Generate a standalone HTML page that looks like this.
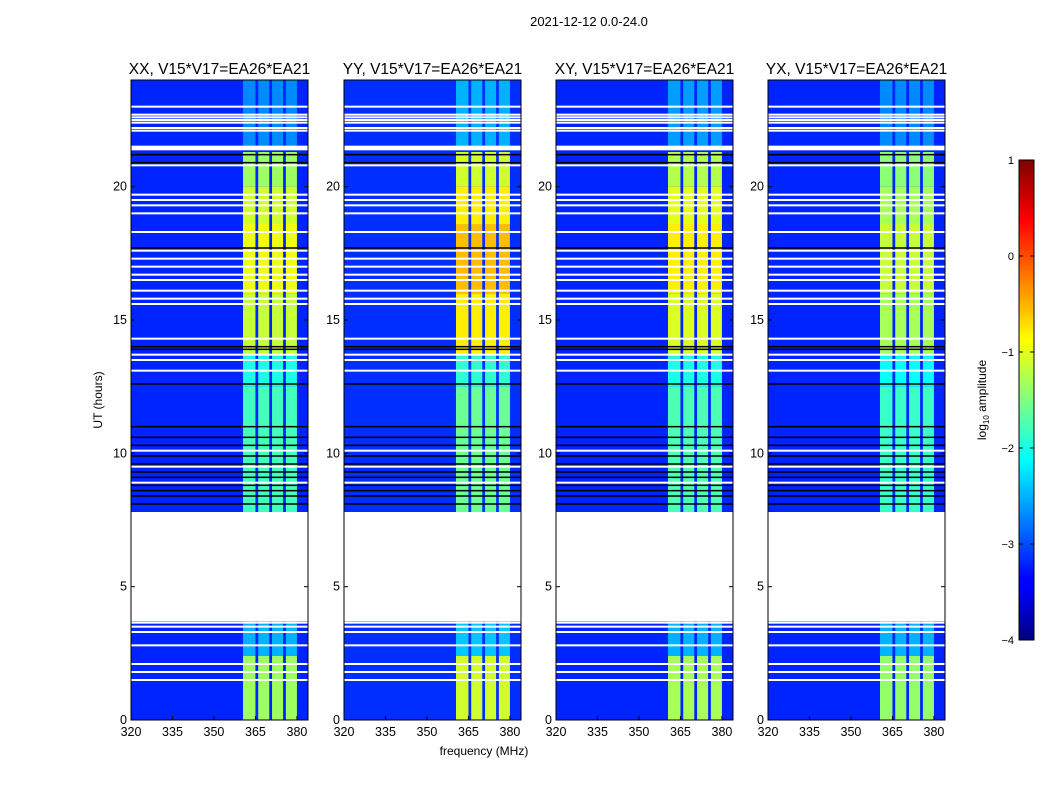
<!DOCTYPE html>
<html><head><meta charset="utf-8">
<style>
body{margin:0;background:#fff;}
svg text{font-family:"Liberation Sans",sans-serif;fill:#000;}
</style></head>
<body>
<svg id="fig" width="1050" height="800" viewBox="0 0 1050 800" xmlns="http://www.w3.org/2000/svg">
<rect width="1050" height="800" fill="#fff"/>
<text x="589" y="26" font-size="13" text-anchor="middle">2021-12-12 0.0-24.0</text>
<g id="panels"></g>
<text x="484" y="755" font-size="12" text-anchor="middle">frequency (MHz)</text>
<text transform="translate(102,400) rotate(-90)" font-size="12" text-anchor="middle">UT (hours)</text>
<defs><linearGradient id="cb" x1="0" y1="1" x2="0" y2="0">
<stop offset="0" stop-color="#00007f"/><stop offset="0.11" stop-color="#0000ff"/><stop offset="0.125" stop-color="#0000ff"/>
<stop offset="0.375" stop-color="#00ffff"/><stop offset="0.625" stop-color="#ffff00"/>
<stop offset="0.875" stop-color="#ff0000"/><stop offset="1" stop-color="#7f0000"/></linearGradient></defs>
<rect x="1019" y="160" width="15" height="480" fill="url(#cb)" stroke="#000" stroke-width="1"/>
<g id="cbticks"></g>
<text transform="translate(986,400) rotate(-90)" font-size="12" text-anchor="middle">log<tspan font-size="8" dy="3">10</tspan><tspan dy="-3"> amplitude</tspan></text>
</svg>
<script>
const panelTitles = ["XX, V15*V17=EA26*EA21","YY, V15*V17=EA26*EA21","XY, V15*V17=EA26*EA21","YX, V15*V17=EA26*EA21"];
const panelX = [131, 344, 556, 768];
const yTicks = [0,5,10,15,20];
const xTicks = [320,335,350,365,380];
const cbTicks = [1,0,-1,-2,-3,-4];
const bands = [[360.5,365],[366,370],[371,375],[376,380]];
const segStart = [0,2.4,7.8,12.5,13.7,16,18.6,20,21.5];
const segEnd   = [2.4,3.7,12.5,13.7,16,18.6,20,21.3,24];
const levelsXX = [-1.35,-2.5,-1.8,-2.0,-1.15,-0.95,-1.1,-1.35,-2.7];
const levelsYY = [-1.1,-2.4,-1.6,-1.9,-0.8,-0.55,-0.8,-1.1,-2.5];
const levelsXY = [-1.3,-2.5,-1.75,-2.0,-1.05,-0.8,-1.0,-1.25,-2.6];
const levelsYX = [-1.4,-2.5,-1.85,-2.1,-1.3,-1.15,-1.3,-1.45,-2.7];
const background = [-3.2,-3.15,-3.2,-3.2];
const gapStart = 3.7, gapEnd = 7.8;
const whiteLines = [1.5,1.8,2.1,2.8,3.3,3.5,3.65,13.1,13.5,13.7,14.3,15.6,15.8,16.1,16.5,16.7,17,17.3,17.6,18.3,19.0,19.3,19.5,19.7,20.8,21.4,21.45,21.5,22.1,22.2,22.4,22.5,22.6,22.7,23.0,10.1,8.9,9.5];
const blackLines = [8.1,8.4,8.6,8.8,9.1,9.3,9.6,9.9,10.3,10.6,11.0,12.6,13.9,14.0,17.7,20.9,21.2];
const levels = [levelsXX,levelsYY,levelsXY,levelsYX];
const W=177,H=640,TOP=80;
const NS="http://www.w3.org/2000/svg";
function jet(v){let t=(v+4)/5;t=Math.max(0,Math.min(1,t));
 const f=x=>Math.round(255*Math.max(0,Math.min(1,x)));
 const r=f(1.5-Math.abs(4*t-3)),g=f(1.5-Math.abs(4*t-2)),b=f(1.5-Math.abs(4*t-1));
 return `rgb(${r},${g},${b})`;}
function mk(tag,attrs,parent){const e=document.createElementNS(NS,tag);for(const k in attrs)e.setAttribute(k,attrs[k]);parent.appendChild(e);return e;}
const root=document.getElementById('panels');
panelX.forEach((px,p)=>{
 const xs=f=>px+(f-320)*W/64, ys=h=>TOP+H-h*H/24;
 const g=mk('g',{},root);
 
 
 const bg=mk('rect',{x:px,y:TOP,width:W,height:H,fill:jet(background[p])},g);
 
 
 segStart.forEach((s,i)=>{bands.forEach(b=>{
  const c=mk('rect',{x:xs(b[0]),y:ys(segEnd[i]),width:xs(b[1])-xs(b[0]),height:ys(s)-ys(segEnd[i]),fill:jet(levels[p][i])},g);
  
  
 });});
 whiteLines.forEach(h=>{mk('rect',{x:px,y:ys(h)-1,width:W,height:2,fill:'#fff'},g);});
 blackLines.forEach(h=>{mk('rect',{x:px,y:ys(h)-0.75,width:W,height:1.5,fill:'#000'},g);});
 const gap=mk('rect',{x:px,y:ys(gapEnd),width:W,height:ys(gapStart)-ys(gapEnd),fill:'#fff'},g);
 
 
 mk('rect',{x:px,y:TOP,width:W,height:H,fill:'none',stroke:'#000','stroke-width':1},g);
 const t=mk('text',{x:px+W/2,y:74,'font-size':15.5,'text-anchor':'middle'},g);t.textContent=panelTitles[p];
 
 
 yTicks.forEach(v=>{const y=ys(v);mk('line',{x1:px,x2:px+4,y1:y,y2:y,stroke:'#000'},g);mk('line',{x1:px+W-4,x2:px+W,y1:y,y2:y,stroke:'#000'},g);
  const l=mk('text',{x:px-4,y:y+4,'font-size':12.5,'text-anchor':'end'},g);l.textContent=v;
  
  });
 xTicks.forEach(v=>{const x=xs(v);mk('line',{x1:x,x2:x,y1:TOP+H,y2:TOP+H-4,stroke:'#000'},g);
  const l=mk('text',{x:x,y:TOP+H+16,'font-size':12.5,'text-anchor':'middle'},g);l.textContent=v;
  
  });
});
const cbg=document.getElementById('cbticks');
cbTicks.forEach(v=>{const y=160+(1-v)*96;
 mk('line',{x1:1019,x2:1023,y1:y,y2:y,stroke:'#000'},cbg);mk('line',{x1:1030,x2:1034,y1:y,y2:y,stroke:'#000'},cbg);
 const l=mk('text',{x:1014,y:y+4,'font-size':11,'text-anchor':'end'},cbg);l.textContent=v<0?'\u2212'+(-v):v;
 
 });
</script>
</body></html>
